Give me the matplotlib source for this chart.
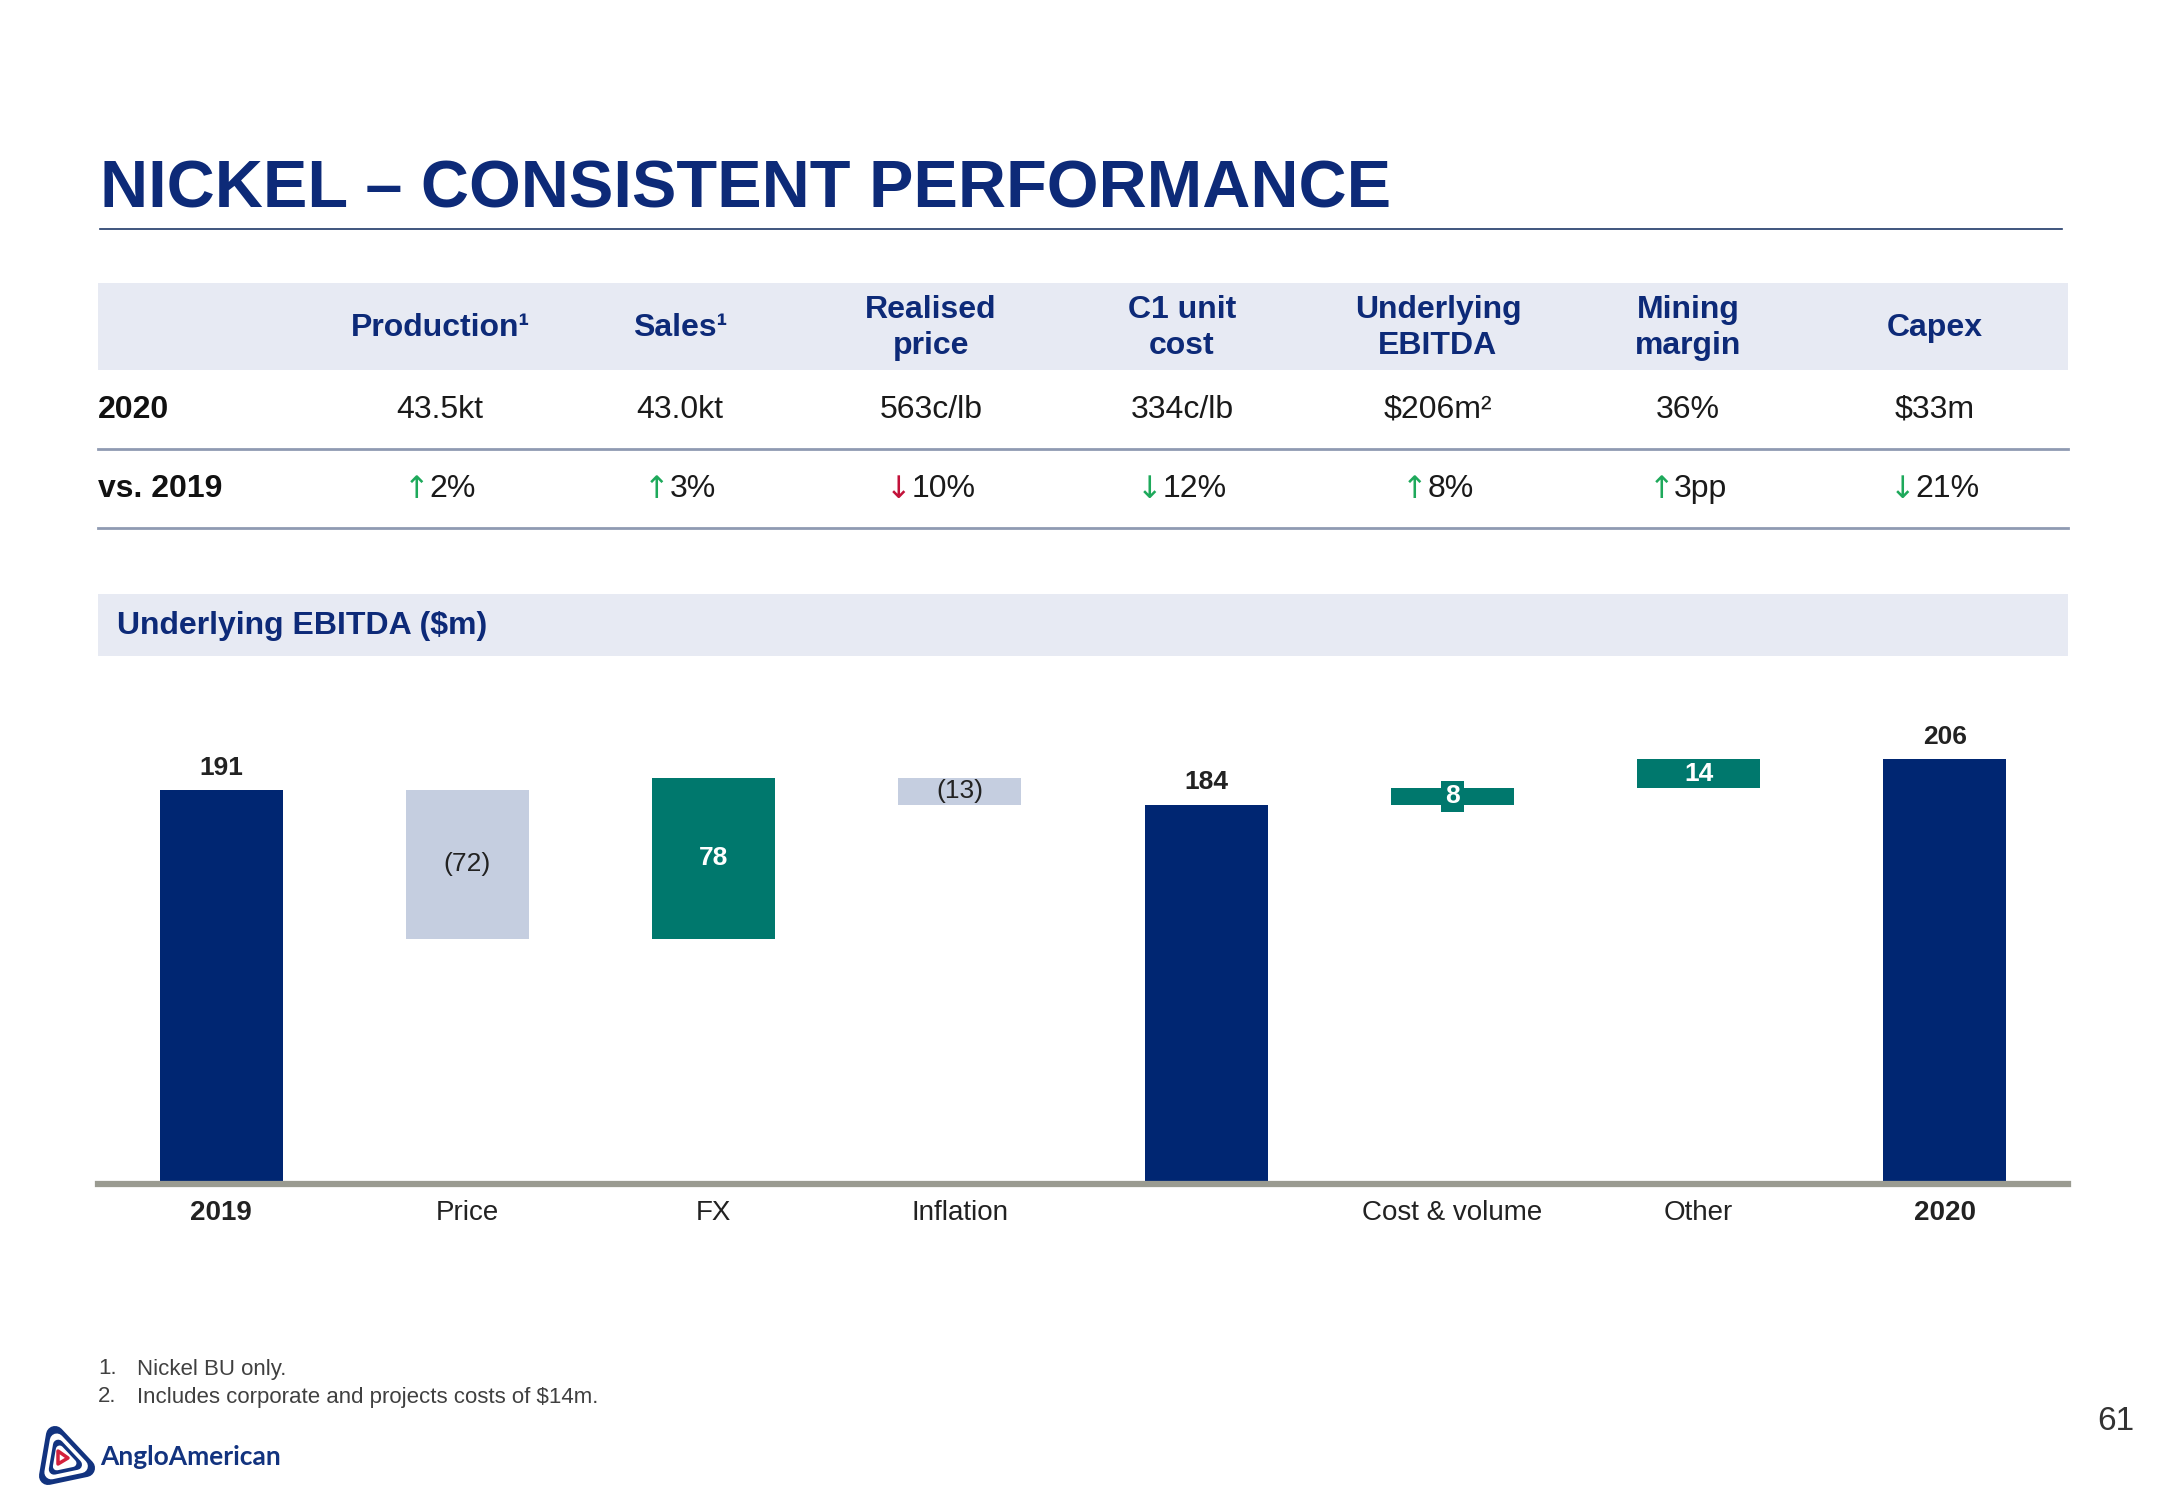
import numpy as np
import matplotlib.pyplot as plt
from matplotlib.patches import Rectangle, Polygon
from matplotlib.lines import Line2D

# --- table data -------------------------------------------------------------
col_headers = ['Production\u00b9', 'Sales\u00b9', 'Realised\nprice', 'C1 unit\ncost',
               'Underlying\nEBITDA', 'Mining\nmargin', 'Capex']
values_2020 = ['43.5kt', '43.0kt', '563c/lb', '334c/lb', '$206m\u00b2', '36%', '$33m']
change_vs_2019 = ['2%', '3%', '10%', '12%', '8%', '3pp', '21%']
change_dir = ['up', 'up', 'down', 'down', 'up', 'up', 'down']
change_good = [True, True, False, True, True, True, True]

# --- waterfall data ---------------------------------------------------------
steps = ['2019', 'Price', 'FX', 'Inflation', '', 'Cost & volume', 'Other', '2020']
step_values = [191, -72, 78, -13, 184, 8, 14, 206]
is_total = [True, False, False, False, True, False, False, True]

footnotes = ['Nickel BU only.', 'Includes corporate and projects costs of $14m.']

W, H = 2166, 1500
NAVY = '#002672'
TEAL = '#00786D'
LIGHT = '#C5CEE0'
BAND = '#E7EAF3'
TITLE = '#0D2A78'
GREEN = '#1EA95B'
RED = '#C2123A'
FONT = ['Liberation Sans', 'DejaVu Sans']
plt.rcParams['font.family'] = FONT


def fx(px):
    return px / W


def fy(py):
    return 1 - py / H


fig = plt.figure(figsize=(W / 100, H / 100), dpi=100)
fig.patch.set_facecolor('white')

# title + rule
fig.text(fx(100), fy(207), 'NICKEL \u2013 CONSISTENT PERFORMANCE', fontsize=48,
         fontweight='bold', color=TITLE, ha='left', va='baseline')
fig.add_artist(Line2D([fx(100), fx(2062)], [fy(229)] * 2, color='#1F3868', lw=1.2))

# table header band
fig.add_artist(Rectangle((fx(98), fy(370)), (2068 - 98) / W, (370 - 283) / H,
                         transform=fig.transFigure, color=BAND, lw=0))
col_x = [440, 680, 931, 1182, 1438, 1688, 1935]
for x, h in zip(col_x, col_headers):
    fig.text(fx(x), fy(328), h, fontsize=23, fontweight='bold', color=TITLE,
             ha='center', va='center', linespacing=1.25)

fig.text(fx(98), fy(410), '2020', fontsize=23, fontweight='bold', color='#111111',
         ha='left', va='center')
fig.text(fx(98), fy(489), 'vs. 2019', fontsize=23, fontweight='bold', color='#111111',
         ha='left', va='center')
for yy in (449, 528):
    fig.add_artist(Line2D([fx(98), fx(2068)], [fy(yy)] * 2, color='#8F9AB2', lw=2))

for x, v in zip(col_x, values_2020):
    fig.text(fx(x), fy(410), v, fontsize=23, color='#1A1A1A', ha='center', va='center')

renderer = fig.canvas.get_renderer()
for x, txt, d, good in zip(col_x, change_vs_2019, change_dir, change_good):
    arrow = '\u2191' if d == 'up' else '\u2193'
    a = fig.text(0, fy(489), arrow, fontsize=22, color=GREEN if good else RED,
                 ha='left', va='center', family=['DejaVu Sans'])
    n = fig.text(0, fy(489), txt, fontsize=23, color='#1A1A1A', ha='left', va='center')
    wa = a.get_window_extent(renderer).width
    wn = n.get_window_extent(renderer).width
    left = x - (wa + wn) / 2
    a.set_x(fx(left))
    n.set_x(fx(left + wa))

# chart header band
fig.add_artist(Rectangle((fx(98), fy(656)), (2068 - 98) / W, (656 - 594) / H,
                         transform=fig.transFigure, color=BAND, lw=0))
fig.text(fx(117), fy(626), 'Underlying EBITDA ($m)', fontsize=23, fontweight='bold',
         color=TITLE, ha='left', va='center')

# --- waterfall --------------------------------------------------------------
ax = fig.add_axes([fx(98), fy(1184), (2068 - 98) / W, (1184 - 700) / H])
bottoms, heights, colors = [], [], []
running = 0
for v, tot in zip(step_values, is_total):
    if tot:
        bottoms.append(0)
        heights.append(v)
        running = v
        colors.append(NAVY)
    else:
        bottoms.append(running + min(v, 0))
        heights.append(abs(v))
        running += v
        colors.append(TEAL if v > 0 else LIGHT)

xs = np.arange(len(steps))
ax.bar(xs, heights, bottom=bottoms, width=0.5, color=colors, lw=0)
ax.set_xlim(-0.5, 7.5)
ax.set_ylim(0, 234.8)
ax.axis('off')
ax.axhline(0, color='#9A9B91', lw=4.5, clip_on=False)

for i, (v, tot, b, h) in enumerate(zip(step_values, is_total, bottoms, heights)):
    if tot:
        ax.annotate(str(v), (i, v), xytext=(0, 16), textcoords='offset points',
                    ha='center', va='center', fontsize=19, fontweight='bold', color='#222222')
    elif v < 0:
        ax.text(i, b + h / 2, f'({abs(v)})', ha='center', va='center', fontsize=19,
                color='#222222')
    elif h < 10:
        ax.text(i, b + h / 2, str(v), ha='center', va='center', fontsize=19,
                fontweight='bold', color='white',
                bbox=dict(boxstyle='square,pad=0.15', fc=TEAL, ec='none'))
    else:
        ax.text(i, b + h / 2, str(v), ha='center', va='center', fontsize=19,
                fontweight='bold', color='white')

for i, s in enumerate(steps):
    bold = is_total[i]
    ax.annotate(s, (i, 0), xytext=(0, -21), textcoords='offset points', ha='center',
                va='center', fontsize=20, color='#222222',
                fontweight='bold' if bold else 'normal')

# footnotes
for k, note in enumerate(footnotes):
    yy = 1369 + 28 * k
    fig.text(fx(98), fy(yy), f'{k + 1}.', fontsize=16, color='#404040', ha='left', va='center')
    fig.text(fx(137), fy(yy), note, fontsize=16, color='#404040', ha='left', va='center')

# page number
fig.text(fx(2116), fy(1421), '61', fontsize=24, color='#333333', ha='center', va='center')

# logo (rounded nested triangles)
lg = fig.add_axes([fx(36), fy(1488), 60 / W, 64 / H])
lg.set_xlim(0, 60)
lg.set_ylim(0, 64)
lg.axis('off')
outer = np.array([[19, 53], [12, 12], [50, 20]], dtype=float)
cen = outer.mean(axis=0)
for scale, col, lw in [(1.0, '#12337F', 13), (0.78, 'white', 10), (0.6, '#12337F', 7.5),
                       (0.42, 'white', 5.5)]:
    pts = cen + (outer - cen) * scale
    lg.add_patch(Polygon(pts, closed=True, fc=col, ec=col, lw=lw, joinstyle='round'))
red = np.array([[22, 37], [22, 24], [32, 30]], dtype=float)
lg.add_patch(Polygon(red, closed=True, fc='white', ec='#D4213D', lw=2.5, joinstyle='round'))
fig.text(fx(100), fy(1457), 'AngloAmerican', fontsize=19, fontweight='bold',
         color='#12337F', ha='left', va='center', family=['Lato', 'DejaVu Sans'])

fig.savefig('out.png', dpi=100, facecolor='white')
